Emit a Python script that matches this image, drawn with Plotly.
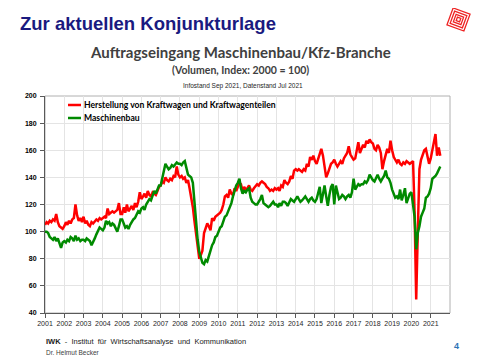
import math
import pandas as pd
import plotly.graph_objects as go

# ---------------- data (monthly, Jan 2001 - Jul 2021, Index 2000 = 100) ----------------
kfz = [
    105, 107, 106, 108, 107, 109, 108, 113, 107, 104, 103, 102,  # 2001
    104, 107, 105, 108, 106, 109, 110, 120, 112, 108, 110, 107,  # 2002
    111, 106, 108, 105, 104, 107, 106, 108, 109, 108, 110, 109,  # 2003
    110, 111, 110, 117, 113, 114, 115, 114, 115, 116, 121, 113,  # 2004
    113, 118, 114, 120, 115, 117, 119, 116, 121, 118, 122, 129,  # 2005
    124, 126, 128, 125, 130, 127, 126, 129, 128, 127, 130, 133,  # 2006
    134, 137, 136, 140, 138, 137, 139, 138, 141, 140, 148, 142,  # 2007
    140, 141, 139, 140, 136, 138, 132, 125, 118, 108, 97, 90,    # 2008
    80, 83, 86, 99, 102, 106, 104, 101, 110, 108, 111, 112,      # 2009
    113, 114, 116, 120, 126, 127, 125, 131, 128, 127, 132, 130,  # 2010
    133, 136, 135, 130, 133, 131, 132, 134, 131, 130, 132, 134,  # 2011
    135, 134, 136, 137, 136, 135, 133, 132, 130, 131, 130, 132,  # 2012
    131, 132, 130, 134, 133, 138, 136, 135, 137, 141, 139, 145,  # 2013
    146, 145, 146, 145, 144, 146, 145, 150, 148, 155, 153, 156,  # 2014
    152, 150, 154, 158, 161, 156, 148, 140, 143, 146, 150, 151,  # 2015
    153, 150, 148, 150, 152, 150, 154, 156, 158, 163, 157, 155,  # 2016
    153, 154, 160, 166, 158, 161, 164, 162, 167, 165, 168, 166,  # 2017
    165, 161, 160, 164, 162, 158, 146, 152, 156, 161, 158, 167,  # 2018
    160, 155, 153, 151, 153, 150, 149, 151, 150, 152, 151, 150,  # 2019
    151, 152, 115, 50, 100, 146, 153, 157, 160, 161, 156, 150,   # 2020
    154, 161, 165, 172, 156, 162, 156,                           # 2021
]
maschinenbau = [
    100, 100, 99, 96, 95, 94, 96, 93, 95, 92, 88, 92,            # 2001
    93, 92, 94, 93, 96, 95, 93, 97, 94, 95, 93, 94,              # 2002
    94, 93, 95, 94, 93, 90, 92, 95, 98, 101, 103, 102,           # 2003
    101, 103, 108, 106, 107, 104, 106, 105, 102, 100, 104, 109,  # 2004
    109, 106, 103, 104, 102, 105, 107, 109, 110, 112, 115, 114,  # 2005
    117, 118, 116, 120, 122, 124, 123, 127, 130, 128, 132, 134,  # 2006
    134, 140, 145, 150, 148, 146, 147, 149, 148, 150, 151, 150,  # 2007
    150, 149, 151, 152, 146, 142, 141, 140, 136, 120, 104, 94,   # 2008
    85, 80, 77, 76, 79, 78, 82, 87, 90, 92, 96, 97,              # 2009
    100, 103, 104, 107, 111, 112, 115, 118, 121, 126, 130, 134,  # 2010
    136, 139, 132, 128, 130, 129, 131, 132, 125, 122, 121, 120,  # 2011
    120, 122, 124, 127, 121, 120, 119, 118, 119, 121, 122, 120,  # 2012
    120, 118, 121, 119, 122, 122, 121, 119, 121, 124, 123, 122,  # 2013
    124, 126, 124, 122, 123, 125, 126, 124, 122, 124, 125, 123,  # 2014
    122, 124, 128, 133, 121, 127, 134, 126, 119, 127, 133, 135,  # 2015
    120, 134, 128, 124, 125, 127, 126, 124, 126, 127, 125, 129,  # 2016
    139, 131, 133, 135, 134, 135, 135, 137, 136, 138, 142, 140,  # 2017
    138, 137, 140, 142, 139, 137, 139, 141, 145, 140, 139, 136,  # 2018
    131, 128, 125, 126, 124, 131, 123, 127, 132, 121, 125, 128,  # 2019
    129, 119, 111, 87, 99, 104, 111, 114, 117, 125, 126, 128,    # 2020
    132, 139, 140, 141, 143, 146, 148,                           # 2021
]
months = pd.date_range("2001-01-01", periods=len(kfz), freq="MS")
year_labels = [str(y) for y in range(2001, 2022)]
series_names = ["Herstellung von Kraftwagen und Kraftwagenteilen", "Maschinenbau"]

# ---------------- layout geometry (screen px; page body adds an 8 px offset) ----------------
W, H, OFF = 480, 360, 8
L, R, T, B = 45, 450, 96, 313          # plot area on screen
pw, ph = R - L, B - T

def px(x):
    return (x - L) / pw

def py(y):
    return (B - y) / ph

RED = "#ff0000"
GREEN = "#008a00"
FONT = "Liberation Sans, Arial, sans-serif"
CAL = "Lato, sans-serif"

fig = go.Figure()
fig.add_trace(go.Scatter(x=months, y=kfz, mode="lines", name=series_names[0],
                         line=dict(color=RED, width=2.5)))
fig.add_trace(go.Scatter(x=months, y=maschinenbau, mode="lines", name=series_names[1],
                         line=dict(color=GREEN, width=2.5)))

tickvals = [f"{y}-01-01" for y in year_labels]

fig.update_layout(
    width=W - OFF, height=H - OFF,
    margin=dict(l=L - OFF, r=W - R, t=T - OFF, b=H - B, pad=0),
    paper_bgcolor="white", plot_bgcolor="white",
    showlegend=False,
    xaxis=dict(
        range=["2001-01-01", "2022-01-01"],
        tickvals=tickvals, ticktext=year_labels,
        showgrid=True, gridcolor="#e4e4e4", gridwidth=1,
        showline=True, linecolor="#595959", linewidth=1,
        ticks="outside", ticklen=4, tickcolor="#595959",
        tickfont=dict(family=FONT, size=7, color="#262626"),
        zeroline=False, fixedrange=True,
    ),
    yaxis=dict(
        range=[40, 200], dtick=20, tick0=40,
        showgrid=True, gridcolor="#e4e4e4", gridwidth=1,
        showline=True, linecolor="#595959", linewidth=1,
        ticks="outside", ticklen=4, tickcolor="#595959",
        tickfont=dict(family=FONT, size=7, color="#000000", weight="bold"),
        ticklabelstandoff=2,
        zeroline=False, fixedrange=True,
    ),
)

shapes = []
# plot area border (light gray)
shapes.append(dict(type="rect", xref="paper", yref="paper", x0=0, x1=1, y0=0, y1=1,
                   line=dict(color="#b0b0b0", width=1), layer="below"))
# legend lines
shapes.append(dict(type="line", xref="paper", yref="paper",
                   x0=px(68), x1=px(81), y0=py(105), y1=py(105),
                   line=dict(color=RED, width=2.5)))
shapes.append(dict(type="line", xref="paper", yref="paper",
                   x0=px(68), x1=px(81), y0=py(118), y1=py(118),
                   line=dict(color=GREEN, width=2.5)))

# logo (rotated red maze-like square), top right
cx, cy, ang = 458.5, 19.5, math.radians(20)
for half in (9, 6.5, 4, 1.8):
    pts = []
    for sx, sy in ((-1, -1), (1, -1), (1, 1), (-1, 1)):
        x = cx + half * (sx * math.cos(ang) - sy * math.sin(ang))
        y = cy + half * (sx * math.sin(ang) + sy * math.cos(ang))
        pts.append((px(x), py(y)))
    path = "M " + " L ".join(f"{a:.4f},{b:.4f}" for a, b in pts) + " Z"
    shapes.append(dict(type="path", xref="paper", yref="paper", path=path,
                       line=dict(color="#ee2222", width=1.3)))
fig.update_layout(shapes=shapes)

ann = []
ann.append(dict(text="Zur aktuellen Konjunkturlage", x=px(18), y=py(23),
                xanchor="left", yanchor="middle",
                font=dict(family=FONT, size=18.5, color="#1a1a80", weight="bold")))
ann.append(dict(text="Auftragseingang Maschinenbau/Kfz-Branche", x=px(240), y=py(52),
                xanchor="center", yanchor="middle",
                font=dict(family=CAL, size=15, color="#404040", weight="bold")))
ann.append(dict(text="(Volumen, Index: 2000 = 100)", x=px(240), y=py(70),
                xanchor="center", yanchor="middle",
                font=dict(family=CAL, size=10.5, color="#404040", weight="bold")))
ann.append(dict(text="Infostand Sep 2021, Datenstand Jul 2021", x=px(243), y=py(86),
                xanchor="center", yanchor="middle",
                font=dict(family=FONT, size=6.5, color="#262626")))
ann.append(dict(text=series_names[0], x=px(82), y=py(105),
                xanchor="left", yanchor="middle",
                font=dict(family=CAL, size=8.6, color="#000000", weight="bold")))
ann.append(dict(text=series_names[1], x=px(82), y=py(118),
                xanchor="left", yanchor="middle",
                font=dict(family=CAL, size=8.6, color="#000000", weight="bold")))
ann.append(dict(text="<b>IWK</b>  -  Institut  für  Wirtschaftsanalyse  und  Kommunikation",
                x=px(44), y=py(341), xanchor="left", yanchor="middle",
                font=dict(family=FONT, size=7.5, color="#1a1a1a")))
ann.append(dict(text="Dr. Helmut Becker", x=px(44), y=py(352),
                xanchor="left", yanchor="middle",
                font=dict(family=FONT, size=6.5, color="#404040")))
ann.append(dict(text="4", x=px(456), y=py(346), xanchor="center", yanchor="middle",
                font=dict(family=FONT, size=9, color="#2e75b6", weight="bold")))
for a in ann:
    a.update(xref="paper", yref="paper", showarrow=False)
fig.update_layout(annotations=ann)

fig.write_html("out.html")
